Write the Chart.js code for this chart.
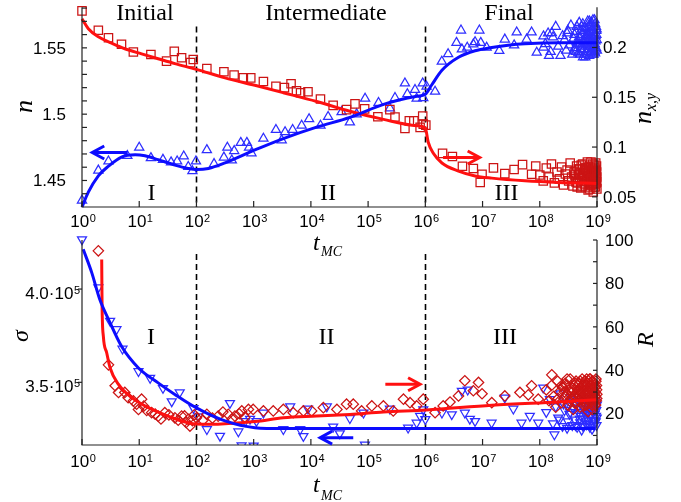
<!DOCTYPE html>
<html><head><meta charset="utf-8">
<script src="https://cdn.jsdelivr.net/npm/chart.js@4.4.1/dist/chart.umd.min.js"></script>
<style>
html,body{margin:0;padding:0;background:#fff;}
#wrap{position:relative;width:681px;height:502px;overflow:hidden;background:#fff;}
#wrap canvas{position:absolute;left:0;}
</style></head><body>
<div id="wrap">
<canvas id="cTop" width="681" height="262" style="top:0px"></canvas>
<canvas id="cBot" width="681" height="272" style="top:230px"></canvas>
</div>
<script>
// ================= DATA =================
// shared x axis (t_MC, log scale)
const xTicks = [1, 10, 100, 1e3, 1e4, 1e5, 1e6, 1e7, 1e8, 1e9];
const xTickExps = ['0','1','2','3','4','5','6','7','8','9'];
const xRange = [1, 1e9];
const phaseBounds = [100, 1e6];
const phaseNames = ['Initial', 'Intermediate', 'Final'];
const regionNames = ['I', 'II', 'III'];

// ---- top panel: n (left axis, blue triangles) and n_{x,y} (right axis, red squares)
const nRange = [1.4300, 1.5807];
const nxyRange = [0.0398, 0.2405];
const nMajorTicks = [1.45, 1.5, 1.55];
const nMajorLabels = ['1.45', '1.5', '1.55'];
const nMinorTicks = [1.44, 1.46, 1.47, 1.48, 1.49, 1.51, 1.52, 1.53, 1.54, 1.56, 1.57, 1.58];
const nxyTicks = [0.05, 0.1, 0.15, 0.2];
const nxyLabels = ['0.05', '0.1', '0.15', '0.2'];

const nPoints = [
 [1,1.435],[1.93,1.4576],[2.9,1.4645],[6.2,1.4686],[10,1.4748],[16,1.467],[26,1.4657],[36,1.4638],[46,1.4645],
 [60,1.4682],[72,1.4603],[85,1.4571],[98,1.4645],[152,1.473],[203,1.4625],[302,1.4674],[347,1.4748],[415,1.4652],
 [457,1.4723],[595,1.4785],[760,1.4785],[830,1.4748],[915,1.4706],[1480,1.4816],[2450,1.4882],[3090,1.4804],
 [3540,1.4865],[4800,1.4882],[6900,1.4914],[9300,1.4963],[14700,1.4914],[20000,1.498],[34400,1.5017],[48000,1.4939],
 [63000,1.5],[88500,1.5118],[152000,1.5086],[240000,1.5044],[295000,1.5123],[440000,1.5233],[485000,1.5152],
 [660000,1.5184],[705000,1.5118],[900000,1.5233],[920000,1.5123],[1.05e6,1.5208],[1.48e6,1.5171],[1.94e6,1.5397],
 [2.5e6,1.5453],[3.5e6,1.5539],[4.2e6,1.5632],[4.35e6,1.549],[5.4e6,1.5502],[6.9e6,1.5527],[7.4e6,1.5544],
 [8.8e6,1.5632],[9.3e6,1.5539],[1.18e7,1.5502],[1.96e7,1.5478],[2.45e7,1.5564],[3.56e7,1.552],[3.95e7,1.5617],
 [5.9e7,1.5564],[7.2e7,1.5617],[8.85e7,1.5465],[1.16e8,1.5588],[1.16e8,1.5502],[1.45e8,1.5441],[1.62e8,1.5612]
];
const nCluster = [
 [1.25e8,1.553],[1.4e8,1.561],[1.55e8,1.547],[1.7e8,1.558],[1.9e8,1.566],[2.1e8,1.551],[2.3e8,1.544],[2.5e8,1.559],
 [2.7e8,1.556],[2.9e8,1.548],[3.1e8,1.563],[3.3e8,1.552],[3.5e8,1.567],[3.7e8,1.545],[3.9e8,1.557],[4.1e8,1.550],
 [4.3e8,1.562],[4.5e8,1.554],[4.7e8,1.546],[4.9e8,1.569],[5.1e8,1.558],[5.3e8,1.549],[5.5e8,1.560],[5.7e8,1.543],
 [5.9e8,1.555],[6.1e8,1.565],[6.3e8,1.551],[6.5e8,1.559],[6.7e8,1.547],[6.9e8,1.570],[7.1e8,1.556],[7.3e8,1.544],
 [7.5e8,1.562],[7.7e8,1.552],[7.9e8,1.566],[8.1e8,1.548],[8.3e8,1.558],[8.5e8,1.571],[8.7e8,1.545],[8.9e8,1.560],
 [9.1e8,1.553],[9.3e8,1.568],[9.5e8,1.549],[9.7e8,1.563],[9.9e8,1.556],[3.0e8,1.561],[4.0e8,1.548],[5.0e8,1.553],
 [6.0e8,1.545],[7.0e8,1.559],[8.0e8,1.554],[9.0e8,1.547],[9.6e8,1.566],[8.6e8,1.551],[7.6e8,1.557],
 [4.05e8,1.560],[4.25e8,1.547],[4.45e8,1.566],[4.65e8,1.553],[4.85e8,1.558],[5.05e8,1.545],[5.25e8,1.563],[5.45e8,1.552],
 [5.65e8,1.568],[5.85e8,1.549],[6.05e8,1.557],[6.25e8,1.543],[6.45e8,1.564],[6.65e8,1.554],[6.85e8,1.561],[7.05e8,1.549],
 [7.25e8,1.567],[7.45e8,1.553],[7.65e8,1.546],[7.85e8,1.560],[8.05e8,1.569],[8.25e8,1.550],[8.45e8,1.556],[8.65e8,1.563],
 [8.85e8,1.552],[9.05e8,1.571],[9.25e8,1.546],[9.45e8,1.559],[9.65e8,1.550],[9.85e8,1.564],[9.95e8,1.548],[9.4e8,1.555],
 [8.4e8,1.545],[7.4e8,1.570],[6.4e8,1.557],[5.4e8,1.566],[8.95e8,1.557],[9.75e8,1.560],[6.95e8,1.551],[7.95e8,1.563]
];
const nFit = [
 [1,1.430],[1.29,1.4412],[1.93,1.4535],[2.9,1.4608],[4.9,1.4677],[8.5,1.4694],[12.6,1.4686],[21.4,1.4657],
 [42,1.4616],[72,1.4591],[100,1.4583],[162,1.4591],[316,1.4633],[1050,1.473],[3300,1.4816],[12600,1.4902],
 [48000,1.4976],[186000,1.5074],[710000,1.5135],[1e6,1.5150],[1.29e6,1.522],[1.95e6,1.5331],[3.8e6,1.5429],
 [7.4e6,1.5478],[1.45e7,1.5502],[2.8e7,1.552],[5.5e7,1.5531],[2.1e8,1.5539],[1e9,1.5539]
];

const nxyPoints = [
 [1,0.2368],[1.93,0.2173],[2.9,0.2098],[4.9,0.2033],[7.9,0.1955],[16,0.1929],[30,0.1863],[41,0.1961],[55,0.1897],
 [79,0.1848],[88,0.188],[152,0.1789],[302,0.1756],[455,0.1724],[660,0.1695],[890,0.1695],[1480,0.1659],[2450,0.161],
 [3450,0.1597],[4500,0.1636],[5600,0.1565],[6600,0.1546],[8900,0.1555],[14700,0.1483],[24500,0.1419],[42000,0.1376],
 [59000,0.1434],[87000,0.1383],[148000,0.1305],[240000,0.1376],[295000,0.1302],[440000,0.1188],[525000,0.1263],
 [630000,0.1263],[810000,0.1198],[900000,0.1312],[920000,0.123],[1.02e6,0.122],[2.0e6,0.0937],[2.97e6,0.0905],
 [4.45e6,0.0808],[6.9e6,0.0785],[9.1e6,0.0645],[9.8e6,0.0727],[1.55e7,0.0791],[2.45e7,0.0733],[3.56e7,0.0775],
 [5.0e7,0.0824],[7.2e7,0.0727]
];
const nxyCluster = [
 [8.5e7,0.081],[1.0e8,0.072],[1.15e8,0.066],[1.3e8,0.079],[1.45e8,0.070],[1.6e8,0.083],[1.8e8,0.064],[2.0e8,0.075],
 [2.2e8,0.068],[2.4e8,0.080],[2.6e8,0.062],[2.8e8,0.073],[3.0e8,0.077],[3.2e8,0.066],[3.4e8,0.084],[3.6e8,0.070],
 [3.8e8,0.061],[4.0e8,0.075],[4.2e8,0.068],[4.4e8,0.081],[4.6e8,0.064],[4.8e8,0.072],[5.0e8,0.078],[5.2e8,0.059],
 [5.4e8,0.069],[5.6e8,0.083],[5.8e8,0.074],[6.0e8,0.063],[6.2e8,0.071],[6.4e8,0.079],[6.6e8,0.066],[6.8e8,0.085],
 [7.0e8,0.057],[7.2e8,0.073],[7.4e8,0.068],[7.6e8,0.080],[7.8e8,0.062],[8.0e8,0.076],[8.2e8,0.070],[8.4e8,0.083],
 [8.6e8,0.055],[8.8e8,0.074],[9.0e8,0.066],[9.2e8,0.079],[9.4e8,0.060],[9.6e8,0.072],[9.8e8,0.081],[9.9e8,0.065],
 [5.5e8,0.061],[6.5e8,0.076],[7.5e8,0.058],[8.5e8,0.069],[9.5e8,0.077],[4.5e8,0.060],
 [4.1e8,0.072],[4.3e8,0.065],[4.7e8,0.078],[4.9e8,0.068],[5.1e8,0.074],[5.3e8,0.082],[5.7e8,0.066],[5.9e8,0.071],
 [6.1e8,0.077],[6.3e8,0.060],[6.7e8,0.073],[6.9e8,0.069],[7.1e8,0.080],[7.3e8,0.064],[7.7e8,0.071],[7.9e8,0.075],
 [8.1e8,0.062],[8.3e8,0.078],[8.7e8,0.067],[8.9e8,0.082],[9.1e8,0.071],[9.3e8,0.063],[9.5e8,0.084],[9.7e8,0.068],
 [9.85e8,0.075],[9.95e8,0.058],[9.05e8,0.074],[8.05e8,0.068],[7.05e8,0.075],[6.05e8,0.079],[9.9e8,0.070],[9.65e8,0.064],
 [8.85e8,0.060],[7.85e8,0.085],[9.25e8,0.076]
];
const nxyFit = [
 [1,0.2287],[1.29,0.2189],[1.93,0.2107],[3.3,0.2043],[5.6,0.1987],[11,0.1936],[21.4,0.1887],[42,0.1838],[100,0.178],
 [316,0.1695],[1050,0.162],[3300,0.1546],[12600,0.1458],[48000,0.136],[186000,0.1278],[710000,0.1214],[1e6,0.1190],
 [1.12e6,0.1051],[1.38e6,0.0937],[1.95e6,0.084],[3.8e6,0.0759],[7.4e6,0.071],[1.45e7,0.0688],[5.5e7,0.0661],
 [2.1e8,0.0645],[1e9,0.0635]
];

// ---- bottom panel: sigma (left axis, blue down-triangles) and R (right axis, red diamonds)
const sigmaRange = [316400, 426300];
const rRange = [5.6, 100];
const sigmaTicks = [350000, 400000];
const sigmaMantissa = ['3.5', '4.0'];
const sigmaExp = '5';
const rTicks = [10, 20, 30, 40, 50, 60, 70, 80, 90, 100];
const rLabeled = [20, 40, 60, 80, 100];

const sigmaPoints = [
 [1,426600],[1.93,400860],[3.1,382900],[4.0,378400],[5.1,367950],[9.7,355900],[15.5,352300],[26,346900],[37,339750],
 [51,344600],[89,336150],[108,331650],[152,324800],[258,321250],[385,338850],[540,323600],[615,316200],[710,329200],
 [865,330400],[1000,316000],[1120,329200],[1480,333650],[3300,324800],[4350,337000],[6500,324800],[7400,321150],[8900,335800],
 [19000,337000],[24500,326200],[32000,322600],[48000,330700],[83000,333650],[88000,316500],[240000,335800],
 [500000,325600],[705000,328300],[810000,331950],[920000,335500],[1e6,330200],[1.95e6,333650],[2.9e6,332800],
 [4.35e6,345400],[4.9e6,333650],[5.5e6,346000],[6.0e6,330400],[7.4e6,329200],[1.44e7,328300],[2.45e7,341800],
 [3.45e7,335800],[4.8e7,328300],[6.7e7,331950],[9.4e7,328300],[1.15e8,347150]
];
const sigmaCluster = [
 [1.3e8,334000],[1.5e8,341000],[1.7e8,328000],[1.9e8,337000],[2.1e8,331000],[2.3e8,344000],[2.5e8,326500],[2.7e8,335000],
 [2.9e8,339000],[3.1e8,329000],[3.3e8,333000],[3.5e8,342000],[3.7e8,327000],[3.9e8,336000],[4.1e8,330000],[4.3e8,338000],
 [4.5e8,326000],[4.7e8,334000],[4.9e8,340000],[5.1e8,328500],[5.3e8,332000],[5.5e8,337500],[5.7e8,326500],[5.9e8,335500],
 [6.1e8,330500],[6.3e8,341500],[6.5e8,327500],[6.7e8,333500],[6.9e8,338500],[7.1e8,329500],[7.3e8,336500],[7.5e8,326000],
 [7.7e8,332500],[7.9e8,339500],[8.1e8,328000],[8.3e8,334500],[8.5e8,330000],[8.7e8,337000],[8.9e8,327000],[9.1e8,333000],
 [9.3e8,340000],[9.5e8,329000],[9.7e8,335000],[9.9e8,331000],
 [1.8e8,322000],[2.2e8,330000],[2.6e8,338500],[3.0e8,325500],[3.4e8,334000],[3.8e8,341000],[4.2e8,327000],[4.6e8,336500],
 [5.0e8,330500],[5.4e8,324500],[5.8e8,339000],[6.2e8,333000],[6.6e8,327500],[7.0e8,342500],[7.4e8,331500],[7.8e8,336000],
 [8.2e8,325000],[8.6e8,340000],[9.0e8,329500],[9.4e8,335500],[9.8e8,327000],[9.95e8,338000],[9.6e8,332000],[8.8e8,334500]
];
const sigmaFit = [
 [1.05,421300],[1.48,408800],[2.04,394500],[2.9,383800],[4.9,369300],[9.7,357700],[21.4,349700],[42,343500],
 [100,336300],[316,329300],[1050,325700],[3300,325200],[9.3e8,325200]
];

const rPoints = [
 [1.93,95],[2.9,42.5],[3.8,32.9],[4.35,29.8],[5.6,29.8],[6.4,27.4],[7.9,25.9],[9.0,24.4],[11,26.7],[9.7,22.0],
 [12,23.5],[13.5,21.5],[16.5,20.5],[19,19.8],[21.5,18.9],[24,17.6],[28,20.5],[33,19.5],[42,18.1],[48,17.0],[55,18.9],
 [62,19.0],[66,16.0],[72,17.4],[77,14.3],[85,16.8],[92,19.5],[100,18.1],[130,17.0],[152,19.7],[190,18.0],[240,18.9],
 [290,20.8],[360,19.7],[420,17.6],[470,18.9],[560,20.0],[620,21.3],[700,18.4],[810,22.0],[980,22.0],[1480,21.3],
 [2200,21.3],[3300,22.0],[4900,20.5],[7400,21.3],[10300,21.3],[16500,22.8],[28500,22.0],[42000,24.4],[55000,24.4],
 [77000,21.3],[116000,23.6],[185000,23.6],[275000,21.3],[415000,26.7],[540000,25.1],[705000,23.6],[920000,26.7],
 [1.48e6,20.5],[2.05e6,23.6],[2.7e6,25.4],[3.8e6,28.2],[4.9e6,35.2],[6.9e6,30.6],[8.5e6,34.4],[9.8e6,29.2],
 [1.45e7,25.1],[2.45e7,28.2],[4.5e7,29.8],[6.3e7,28.7],[7.2e7,32.9],[9.4e7,26.7],[1.62e8,37.9]
];
const rCluster = [
 [1.3e8,31],[1.45e8,26],[1.6e8,33],[1.75e8,28],[1.9e8,23],[2.05e8,35],[2.2e8,30],[2.35e8,25],[2.5e8,32],[2.65e8,27],
 [2.8e8,34],[2.95e8,29],[3.1e8,24],[3.25e8,31],[3.4e8,36],[3.55e8,27],[3.7e8,30],[3.85e8,22],[4.0e8,33],[4.15e8,28],
 [4.3e8,35],[4.45e8,25],[4.6e8,31],[4.75e8,29],[4.9e8,34],[5.05e8,23],[5.2e8,32],[5.35e8,27],[5.5e8,36],[5.65e8,30],
 [5.8e8,26],[5.95e8,33],[6.1e8,29],[6.25e8,35],[6.4e8,24],[6.55e8,31],[6.7e8,28],[6.85e8,34],[7.0e8,21],[7.15e8,32],
 [7.3e8,27],[7.45e8,36],[7.6e8,30],[7.75e8,25],[7.9e8,33],[8.05e8,29],[8.2e8,35],[8.35e8,22],[8.5e8,31],[8.65e8,27],
 [8.8e8,34],[8.95e8,30],[9.1e8,24],[9.25e8,32],[9.4e8,28],[9.55e8,35],[9.7e8,26],[9.85e8,31],[9.95e8,29],
 [2.1e8,27],[2.4e8,33],[2.7e8,30],[3.0e8,36],[3.3e8,26],[3.6e8,32],[3.9e8,28],[4.2e8,34],[4.5e8,30],[4.8e8,26],
 [5.1e8,35],[5.4e8,29],[5.7e8,33],[6.0e8,27],[6.3e8,31],[6.6e8,36],[6.9e8,25],[7.2e8,30],[7.5e8,33],[7.8e8,28],
 [8.1e8,32],[8.4e8,35],[8.7e8,26],[9.0e8,33],[9.3e8,30],[9.6e8,36],[9.9e8,27],[9.8e8,33],[9.45e8,24],[8.9e8,29],
 [8.25e8,24],[7.65e8,36],[7.05e8,32],[6.45e8,29],[5.85e8,24],[5.25e8,31],[4.65e8,33],[4.05e8,25],[3.45e8,30],[2.85e8,33]
];
const rFit = [
 [2.21,91],[2.24,71],[2.36,55.7],[2.70,48.1],[3.09,41.2],[4.31,33.6],[7.4,27.4],[14.4,22.8],[32,18.9],[72,15.8],
 [162,15.1],[1050,16.4],[3300,18.1],[12600,18.9],[48000,19.7],[186000,20.8],[1.05e6,21.7],[1.45e7,23.9],[2.1e8,25.4],[1e9,26.4]
];

// arrows (data units): [tail t, tip t, value]
const arrowNTop = [6.3, 1.51, 1.4711];
const arrowNxyTop = [2.04e6, 8.9e6, 0.0895];
const arrowRBot = [2.0e5, 8.1e5, 33.55];
const arrowSigmaBot = [55000, 14500, 320330];
const dashTopFrom = 1.5661;
const dashBotFrom = 418800;

// ================= STYLE =================
const BLUE_LINE = '#0c0cff', BLUE_PT = '#2e2eff', RED_LINE = '#ff1010', RED_PT = '#cc1414';
const AXIS = '#222';
const SANS = '"Liberation Sans", Arial, sans-serif';
const SERIF = '"Liberation Serif", "Times New Roman", serif';

const toXY = arr => arr.map(p => ({x: p[0], y: p[1]}));

function seg(ctx, x1, y1, x2, y2) { ctx.beginPath(); ctx.moveTo(x1, y1); ctx.lineTo(x2, y2); ctx.stroke(); }

function supText(ctx, base, exp, x, y, align) {
  ctx.font = '17px ' + SANS;
  const w1 = ctx.measureText(base).width;
  ctx.font = '11px ' + SANS;
  const w2 = ctx.measureText(exp).width;
  const tot = w1 + w2 + 0.5;
  const sx = align === 'center' ? x - tot / 2 : (align === 'right' ? x - tot : x);
  ctx.textAlign = 'left'; ctx.textBaseline = 'alphabetic';
  ctx.font = '17px ' + SANS; ctx.fillText(base, sx, y);
  ctx.font = '11px ' + SANS; ctx.fillText(exp, sx + w1 + 0.5, y - 5.5);
}

function arrow(ctx, x1, y, x2, color) {
  const dir = Math.sign(x2 - x1);
  ctx.save();
  ctx.strokeStyle = color; ctx.lineWidth = 3; ctx.setLineDash([]); ctx.lineJoin = 'miter'; ctx.lineCap = 'butt';
  seg(ctx, x1, y, x2 - dir * 1.5, y);
  ctx.beginPath(); ctx.moveTo(x2 - dir * 12, y - 6.5); ctx.lineTo(x2, y); ctx.lineTo(x2 - dir * 12, y + 6.5); ctx.stroke();
  ctx.restore();
}

function serifText(ctx, txt, x, y, size, italic, align) {
  ctx.font = (italic ? 'italic ' : '') + size + 'px ' + SERIF;
  ctx.textAlign = align || 'center'; ctx.textBaseline = 'alphabetic';
  ctx.fillText(txt, x, y);
}

function rotText(ctx, parts, x, y) {
  ctx.save();
  ctx.translate(x, y); ctx.rotate(-Math.PI / 2);
  ctx.textAlign = 'left'; ctx.textBaseline = 'alphabetic';
  let u = 0;
  parts.forEach(p => {
    ctx.font = 'italic ' + p.size + 'px ' + SERIF;
    ctx.fillText(p.t, u, p.dy || 0);
    u += ctx.measureText(p.t).width;
  });
  ctx.restore();
}

function dashed(ctx, chart, yScaleId, fromVal) {
  const a = chart.chartArea, xs = chart.scales.x, ys = chart.scales[yScaleId];
  ctx.save();
  ctx.strokeStyle = '#000'; ctx.lineWidth = 1.6; ctx.setLineDash([6, 4]);
  phaseBounds.forEach(t => {
    const px = Math.round(xs.getPixelForValue(t)) + 0.5;
    seg(ctx, px, ys.getPixelForValue(fromVal), px, a.bottom);
  });
  ctx.restore();
}

function frame(ctx, a) {
  ctx.strokeStyle = AXIS; ctx.lineWidth = 1.2; ctx.setLineDash([]);
  seg(ctx, a.left, a.top, a.left, a.bottom);
  seg(ctx, a.right, a.top, a.right, a.bottom);
  seg(ctx, a.left - 0.5, a.bottom, a.right + 0.5, a.bottom);
}

function xAxis(ctx, chart, labelBase) {
  const a = chart.chartArea, xs = chart.scales.x;
  ctx.fillStyle = '#000';
  xTicks.forEach((t, i) => {
    const px = xs.getPixelForValue(t);
    ctx.strokeStyle = AXIS; ctx.lineWidth = 1.2;
    seg(ctx, px, a.bottom, px, a.bottom - 6);
    supText(ctx, '10', xTickExps[i], px + 1, labelBase, 'center');
  });
}

const PT_W = 1.25;

// ================= TOP CHART =================
const topDeco = {
  id: 'topDeco',
  beforeDatasetsDraw(chart) { dashed(chart.ctx, chart, 'yL', dashTopFrom); },
  afterDatasetsDraw(chart) {
    const ctx = chart.ctx, a = chart.chartArea, xs = chart.scales.x, yl = chart.scales.yL, yr = chart.scales.yR;
    ctx.save();
    frame(ctx, a);
    xAxis(ctx, chart, 227);
    ctx.strokeStyle = AXIS; ctx.lineWidth = 1.2;
    nMinorTicks.concat(nMajorTicks).forEach(v => { const py = yl.getPixelForValue(v); seg(ctx, a.left, py, a.left + 5, py); });
    ctx.fillStyle = '#000'; ctx.font = '17px ' + SANS; ctx.textAlign = 'right'; ctx.textBaseline = 'middle';
    nMajorTicks.forEach((v, i) => ctx.fillText(nMajorLabels[i], 66, yl.getPixelForValue(v) + 1));
    nxyTicks.forEach(v => { const py = yr.getPixelForValue(v); seg(ctx, a.right - 5, py, a.right, py); });
    ctx.textAlign = 'left';
    nxyTicks.forEach((v, i) => ctx.fillText(nxyLabels[i], 603, yr.getPixelForValue(v) + 1));
    arrow(ctx, xs.getPixelForValue(arrowNTop[0]), yl.getPixelForValue(arrowNTop[2]), xs.getPixelForValue(arrowNTop[1]), BLUE_LINE);
    arrow(ctx, xs.getPixelForValue(arrowNxyTop[0]), yr.getPixelForValue(arrowNxyTop[2]), xs.getPixelForValue(arrowNxyTop[1]), RED_LINE);
    ctx.fillStyle = '#000';
    serifText(ctx, phaseNames[0], 145, 20, 24, false);
    serifText(ctx, phaseNames[1], 326, 20, 24, false);
    serifText(ctx, phaseNames[2], 509, 20, 24, false);
    serifText(ctx, regionNames[0], 151.5, 200, 24, false);
    serifText(ctx, regionNames[1], 328, 200, 24, false);
    serifText(ctx, regionNames[2], 506.5, 200, 24, false);
    rotText(ctx, [{t: 'n', size: 26}], 32, 113);
    rotText(ctx, [{t: 'n', size: 26}, {t: 'x,y', size: 16, dy: 5}], 651, 124);
    serifText(ctx, 't', 313, 250, 24, true, 'left');
    serifText(ctx, 'MC', 321, 256, 14, true, 'left');
    ctx.restore();
  }
};

new Chart(document.getElementById('cTop'), {
  type: 'scatter',
  data: {
    datasets: [
      {label: 'n fit', data: toXY(nFit), yAxisID: 'yL', showLine: true, borderColor: BLUE_LINE, borderWidth: 3,
       pointRadius: 0, cubicInterpolationMode: 'monotone', clip: false, order: 0},
      {label: 'n_xy fit', data: toXY(nxyFit), yAxisID: 'yR', showLine: true, borderColor: RED_LINE, borderWidth: 3,
       pointRadius: 0, cubicInterpolationMode: 'monotone', clip: false, order: 0},
      {label: 'n', data: toXY(nPoints.concat(nCluster)), yAxisID: 'yL', pointStyle: 'triangle', pointRadius: 5.3,
       borderColor: BLUE_PT, backgroundColor: 'rgba(0,0,0,0)', borderWidth: PT_W, clip: false, order: 2},
      {label: 'n_xy', data: toXY(nxyPoints.concat(nxyCluster)), yAxisID: 'yR', pointStyle: 'rect', pointRadius: 5.9,
       borderColor: RED_PT, backgroundColor: 'rgba(0,0,0,0)', borderWidth: PT_W, clip: false, order: 1}
    ]
  },
  options: {
    responsive: false, animation: false, events: [],
    layout: {padding: {left: 82, right: 84, top: 0, bottom: 55}},
    plugins: {legend: {display: false}, tooltip: {enabled: false}},
    scales: {
      x: {type: 'logarithmic', min: xRange[0], max: xRange[1], display: false},
      yL: {type: 'linear', position: 'left', min: nRange[0], max: nRange[1], display: false},
      yR: {type: 'linear', position: 'right', min: nxyRange[0], max: nxyRange[1], display: false}
    }
  },
  plugins: [topDeco]
});

// ================= BOTTOM CHART =================
const OFF = 230;
const botDeco = {
  id: 'botDeco',
  beforeDatasetsDraw(chart) { dashed(chart.ctx, chart, 'yL', dashBotFrom); },
  afterDatasetsDraw(chart) {
    const ctx = chart.ctx, a = chart.chartArea, xs = chart.scales.x, yl = chart.scales.yL, yr = chart.scales.yR;
    ctx.save();
    frame(ctx, a);
    xAxis(ctx, chart, 467 - OFF);
    ctx.strokeStyle = AXIS; ctx.lineWidth = 1.2;
    sigmaTicks.forEach((v, i) => {
      const py = yl.getPixelForValue(v);
      seg(ctx, a.left - 4, py, a.left, py);
      ctx.fillStyle = '#000';
      supText(ctx, sigmaMantissa[i] + '\u00B710', sigmaExp, 80, py + 10, 'right');
    });
    rTicks.forEach(v => { const py = yr.getPixelForValue(v); seg(ctx, a.right - 4, py, a.right, py); });
    ctx.fillStyle = '#000'; ctx.font = '17px ' + SANS; ctx.textAlign = 'left'; ctx.textBaseline = 'middle';
    rLabeled.forEach(v => ctx.fillText(String(v), 605, yr.getPixelForValue(v) + 1));
    arrow(ctx, xs.getPixelForValue(arrowRBot[0]), yr.getPixelForValue(arrowRBot[2]), xs.getPixelForValue(arrowRBot[1]), RED_LINE);
    arrow(ctx, xs.getPixelForValue(arrowSigmaBot[0]), yl.getPixelForValue(arrowSigmaBot[2]), xs.getPixelForValue(arrowSigmaBot[1]), BLUE_LINE);
    ctx.fillStyle = '#000';
    serifText(ctx, regionNames[0], 151, 344 - OFF, 24, false);
    serifText(ctx, regionNames[1], 326.5, 344 - OFF, 24, false);
    serifText(ctx, regionNames[2], 505, 344 - OFF, 24, false);
    rotText(ctx, [{t: '\u03C3', size: 24}], 28, 342 - OFF);
    rotText(ctx, [{t: 'R', size: 24}], 653, 347 - OFF);
    serifText(ctx, 't', 313, 492 - OFF, 24, true, 'left');
    serifText(ctx, 'MC', 321, 500 - OFF, 14, true, 'left');
    ctx.restore();
  }
};

new Chart(document.getElementById('cBot'), {
  type: 'scatter',
  data: {
    datasets: [
      {label: 'sigma fit', data: toXY(sigmaFit), yAxisID: 'yL', showLine: true, borderColor: BLUE_LINE, borderWidth: 3,
       pointRadius: 0, cubicInterpolationMode: 'monotone', clip: false, order: 0},
      {label: 'R fit', data: toXY(rFit), yAxisID: 'yR', showLine: true, borderColor: RED_LINE, borderWidth: 3,
       pointRadius: 0, cubicInterpolationMode: 'monotone', clip: false, order: 0},
      {label: 'sigma', data: toXY(sigmaPoints.concat(sigmaCluster)), yAxisID: 'yL', pointStyle: 'triangle', rotation: 180,
       pointRadius: 5.2, borderColor: BLUE_PT, backgroundColor: 'rgba(0,0,0,0)', borderWidth: PT_W,
       clip: {left: false, top: false, right: false, bottom: 0}, order: 2},
      {label: 'R', data: toXY(rPoints.concat(rCluster)), yAxisID: 'yR', pointStyle: 'rectRot', pointRadius: 5.2,
       borderColor: RED_PT, backgroundColor: 'rgba(0,0,0,0)', borderWidth: PT_W, clip: false, order: 1}
    ]
  },
  options: {
    responsive: false, animation: false, events: [],
    layout: {padding: {left: 82, right: 84, top: 10, bottom: 57}},
    plugins: {legend: {display: false}, tooltip: {enabled: false}},
    scales: {
      x: {type: 'logarithmic', min: xRange[0], max: xRange[1], display: false},
      yL: {type: 'linear', position: 'left', min: sigmaRange[0], max: sigmaRange[1], display: false},
      yR: {type: 'linear', position: 'right', min: rRange[0], max: rRange[1], display: false}
    }
  },
  plugins: [botDeco]
});
</script></body></html>
